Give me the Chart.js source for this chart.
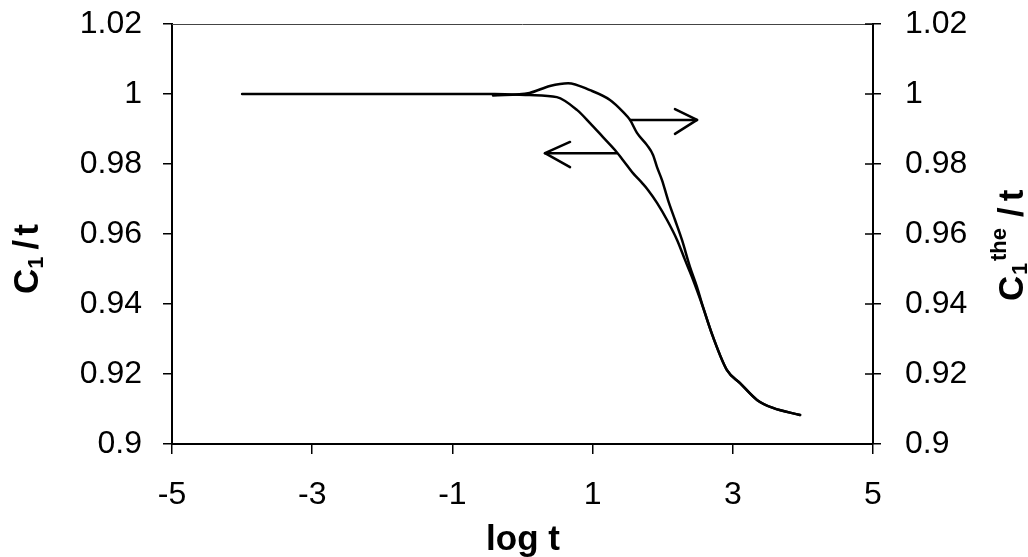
<!DOCTYPE html>
<html><head><meta charset="utf-8">
<script src="https://cdn.jsdelivr.net/npm/chart.js@4.4.0/dist/chart.umd.min.js"></script>
<style>html,body{margin:0;padding:0;background:#fff;} #wrap{width:1028px;height:557px;}</style>
</head><body><div id="wrap"><canvas id="c" width="1028" height="557"></canvas></div>
<script>
// ---- data ----
const xTicks = [-5, -3, -1, 1, 3, 5];
const yTicks = [0.9, 0.92, 0.94, 0.96, 0.98, 1, 1.02];
const yTickLabels = ['0.9', '0.92', '0.94', '0.96', '0.98', '1', '1.02'];

// C1/t (left axis)
const curveA_x = [-4.0, -0.4, 0.1, 0.49, 0.78, 0.963, 1.148, 1.319, 1.434, 1.576, 1.705, 1.79, 1.919, 2.062, 2.205, 2.318, 2.418, 2.575, 2.718, 2.917, 3.103, 3.345, 3.573, 3.96];
const curveA_y = [1.0, 1.0, 0.9997, 0.9991, 0.9954, 0.9917, 0.9877, 0.984, 0.9811, 0.9774, 0.9746, 0.9726, 0.9689, 0.964, 0.9583, 0.9526, 0.9477, 0.9391, 0.9306, 0.9211, 0.9174, 0.9126, 0.9103, 0.9083];

// C1^the/t (right axis)
const curveB_x = [-0.42, 0.1, 0.39, 0.65, 0.963, 1.248, 1.434, 1.534, 1.633, 1.776, 1.862, 1.919, 1.99, 2.076, 2.176, 2.275, 2.389, 2.489, 2.575, 2.718, 2.917, 3.103, 3.345, 3.573, 3.96];
const curveB_y = [0.9996, 1.0003, 1.0023, 1.0031, 1.0011, 0.9983, 0.9949, 0.9926, 0.9889, 0.9854, 0.9826, 0.9791, 0.9754, 0.9697, 0.964, 0.9583, 0.9506, 0.9449, 0.9391, 0.9306, 0.9211, 0.9174, 0.9126, 0.9103, 0.9083];

// arrows (annotation marks, in data units)
const arrowR_shaft_x = [1.534, 2.49];
const arrowR_shaft_y = [0.9926, 0.9926];
const arrowR_head_x = [2.175, 2.49, 2.175];
const arrowR_head_y = [0.9957, 0.9926, 0.9886];
const arrowL_shaft_x = [1.348, 0.321];
const arrowL_shaft_y = [0.9831, 0.9831];
const arrowL_head_x = [0.678, 0.321, 0.678];
const arrowL_head_y = [0.9863, 0.9831, 0.9791];

const pts = (xs, ys) => xs.map((x, i) => ({x: x, y: ys[i]}));

const FONT = "'Liberation Sans', Arial, sans-serif";
const BLACK = '#000';

function lineDs(data, axis, smooth) {
  return {
    data: data, yAxisID: axis, showLine: true, pointRadius: 0, borderColor: BLACK,
    borderWidth: 2.5, fill: false, tension: smooth ? 0.4 : 0,
    cubicInterpolationMode: smooth ? 'monotone' : 'default',
    borderCapStyle: 'round', borderJoinStyle: 'round'
  };
}

function drawRotated(ctx, x, y, parts) {
  ctx.save();
  ctx.translate(x, y);
  ctx.rotate(-Math.PI / 2);
  ctx.fillStyle = BLACK;
  ctx.textBaseline = 'alphabetic';
  ctx.textAlign = 'left';
  let cx = 0;
  for (const p of parts) {
    ctx.font = 'bold ' + p.size + 'px ' + FONT;
    const px = (p.x !== undefined) ? p.x : cx;
    ctx.fillText(p.text, px, p.dy || 0);
    const w = ctx.measureText(p.text).width;
    if (!p.noAdvance) cx = px + w + (p.gap || 0);
  }
  ctx.restore();
}

const framePlugin = {
  id: 'frame',
  afterDraw(chart) {
    const ctx = chart.ctx;
    const a = chart.chartArea;
    ctx.save();
    // top border
    ctx.strokeStyle = '#444';
    ctx.lineWidth = 1;
    ctx.beginPath();
    ctx.moveTo(a.left, a.top + 0.5);
    ctx.lineTo(a.right, a.top + 0.5);
    ctx.stroke();
    // inner part of right-axis ticks (they cross the axis)
    const y2 = chart.scales.y2;
    ctx.strokeStyle = BLACK;
    ctx.lineWidth = 1.5;
    ctx.beginPath();
    for (const t of y2.ticks) {
      const py = y2.getPixelForValue(t.value);
      ctx.moveTo(a.right - 8, py);
      ctx.lineTo(a.right, py);
    }
    ctx.stroke();
    ctx.restore();

    // axis titles
    drawRotated(ctx, 38, 294, [
      {text: 'C', size: 35},
      {text: '1', size: 22, dy: 5, gap: 7},
      {text: '/', size: 35, gap: 4},
      {text: 't', size: 35}
    ]);
    drawRotated(ctx, 1023, 301, [
      {text: 'C', size: 35},
      {text: '1', size: 22, dy: 4, noAdvance: true, x: 26},
      {text: 'the', size: 22, dy: -17, x: 40, gap: 11},
      {text: '/', size: 35, gap: 6},
      {text: 't', size: 35}
    ]);
    ctx.save();
    ctx.fillStyle = BLACK;
    ctx.font = 'bold 35px ' + FONT;
    ctx.textAlign = 'center';
    ctx.textBaseline = 'alphabetic';
    ctx.fillText('log t', 523, 550);
    ctx.restore();
  }
};

const yLabel = (v) => {
  let best = 0, bd = 1e9;
  yTicks.forEach((t, i) => { const d = Math.abs(t - v); if (d < bd) { bd = d; best = i; } });
  return yTickLabels[best];
};

const TICKFONT = {family: FONT, size: 32};

const yScale = (pos, width, tickLen, pad) => ({
  type: 'linear', position: pos, min: 0.9, max: 1.02,
  afterBuildTicks: (axis) => { axis.ticks = yTicks.map(v => ({value: v})); },
  afterFit: (axis) => { axis.width = width; axis.paddingTop = 0; axis.paddingBottom = 0; },
  ticks: { callback: yLabel, color: BLACK, font: TICKFONT, padding: pad },
  grid: { drawOnChartArea: false, drawTicks: true, tickLength: tickLen, color: BLACK, lineWidth: 1.5 },
  border: { display: true, color: BLACK, width: 2 }
});

new Chart(document.getElementById('c'), {
  type: 'scatter',
  data: {
    datasets: [
      lineDs(pts(curveA_x, curveA_y), 'y', true),
      lineDs(pts(curveB_x, curveB_y), 'y2', true),
      lineDs(pts(arrowR_shaft_x, arrowR_shaft_y), 'y', false),
      lineDs(pts(arrowR_head_x, arrowR_head_y), 'y', false),
      lineDs(pts(arrowL_shaft_x, arrowL_shaft_y), 'y', false),
      lineDs(pts(arrowL_head_x, arrowL_head_y), 'y', false)
    ]
  },
  options: {
    responsive: false, animation: false, devicePixelRatio: 1,
    layout: { padding: { top: 24, left: 0, right: 0, bottom: 0 } },
    plugins: { legend: { display: false }, tooltip: { enabled: false } },
    scales: {
      x: {
        type: 'linear', min: -5, max: 5,
        afterBuildTicks: (axis) => { axis.ticks = xTicks.map(v => ({value: v})); },
        afterFit: (axis) => { axis.height = 113; axis.paddingLeft = 0; axis.paddingRight = 0; },
        ticks: { color: BLACK, font: TICKFONT, padding: 22, maxRotation: 0 },
        grid: { drawOnChartArea: false, tickLength: 10, color: BLACK, lineWidth: 1.5 },
        border: { display: true, color: BLACK, width: 2 }
      },
      y: yScale('left', 172, 9, 21),
      y2: yScale('right', 155, 8, 24)
    }
  },
  plugins: [framePlugin]
});
</script>
</body></html>
